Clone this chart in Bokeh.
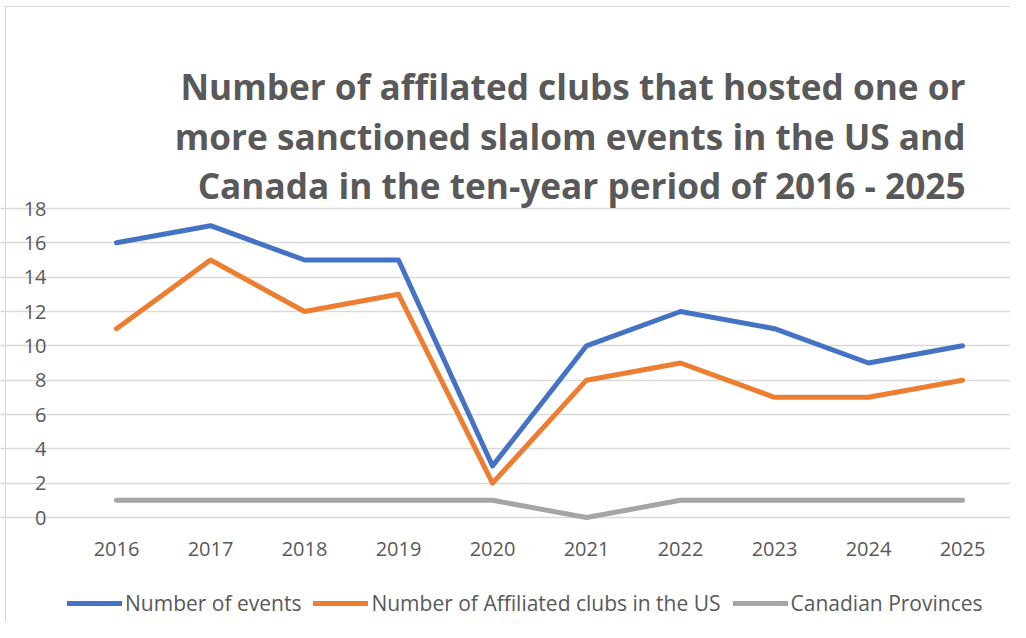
from bokeh.plotting import figure
from bokeh.models import Range1d, FixedTicker, Legend, LegendItem, Label
from bokeh.embed import file_html
from bokeh.resources import INLINE

years = [2016, 2017, 2018, 2019, 2020, 2021, 2022, 2023, 2024, 2025]
events = [16, 17, 15, 15, 3, 10, 12, 11, 9, 10]
clubs_us = [11, 15, 12, 13, 2, 8, 9, 7, 7, 8]
canada = [1, 1, 1, 1, 1, 0, 1, 1, 1, 1]
y_ticks = [0, 2, 4, 6, 8, 10, 12, 14, 16, 18]
series_names = ["Number of events", "Number of Affiliated clubs in the US", "Canadian Provinces"]
title_lines = [
    "Number of affilated clubs that hosted one or",
    "more sanctioned slalom events in the US and",
    "Canada in the ten-year period of 2016 - 2025",
]

TEXT = "#595959"
GRID = "#D9D9D9"
FONT = "Open Sans"
colors = ["#4472C4", "#ED7D31", "#A5A5A5"]

# ---- layout (pixels) ----
W, H = 1010, 622
PLOT_L, PLOT_R, PLOT_T, PLOT_B = 69, 1009, 208, 517
x_lo, x_hi = years[0] - 0.5, years[-1] + 0.5
y_lo, y_hi = y_ticks[0], y_ticks[-1]
xs = (PLOT_R - PLOT_L) / (x_hi - x_lo)
ys = (PLOT_B - PLOT_T) / (y_hi - y_lo)


def px_x(px):
    return x_lo + (px - PLOT_L) / xs


def px_y(py):
    return y_lo + (PLOT_B - py) / ys


p = figure(width=W, height=H, output_backend="svg", toolbar_location=None, title=None,
           x_range=Range1d(px_x(0), px_x(W)), y_range=Range1d(px_y(H), px_y(0)),
           min_border=0)
p.border_fill_alpha = 0
p.background_fill_alpha = 0
p.styles = {
    "background-color": "white",
    "background-image": "linear-gradient(#d9d9d9, #d9d9d9), linear-gradient(#d9d9d9, #d9d9d9)",
    "background-size": "1px 100%, 100% 1px",
    "background-position": "5px 6px, 5px 6px",
    "background-repeat": "no-repeat",
}
p.outline_line_color = None

p.xgrid.grid_line_color = None
p.ygrid.grid_line_color = GRID
p.ygrid.grid_line_width = 1.3
p.ygrid.bounds = (x_lo, x_hi)
p.yaxis.ticker = FixedTicker(ticks=y_ticks)
p.xaxis.ticker = FixedTicker(ticks=years)
p.xaxis.major_label_overrides = {y: str(y) for y in years}
p.yaxis.fixed_location = x_lo
p.xaxis.fixed_location = y_lo

for ax in (p.xaxis, p.yaxis):
    ax.axis_line_color = None
    ax.major_tick_line_color = None
    ax.minor_tick_line_color = None
    ax.major_label_text_color = TEXT
    ax.major_label_text_font = FONT
    ax.major_label_text_font_size = "20px"
p.yaxis.major_label_standoff = 17
p.xaxis.major_label_standoff = 18

renderers = []
for vals, c in zip([events, clubs_us, canada], colors):
    r = p.line(years, vals, line_color=c, line_width=5, line_cap="round", line_join="round")
    renderers.append(r)

legend = Legend(items=[LegendItem(label=n, renderers=[r]) for n, r in zip(series_names, renderers)],
                orientation="horizontal", location=(67, 5),
                label_text_font=FONT, label_text_font_size="21px", label_text_color=TEXT,
                glyph_width=55, glyph_height=20, label_standoff=3, spacing=12,
                padding=2, margin=0, border_line_color=None, background_fill_alpha=0)
p.add_layout(legend, "center")

title_right = 965
title_baselines = [85, 135, 184]
for t, by in zip(title_lines, title_baselines):
    p.add_layout(Label(x=px_x(title_right), y=px_y(by), text=t,
                       text_align="right", text_baseline="alphabetic",
                       text_font=FONT, text_font_style="bold", text_font_size="35.2px",
                       text_color=TEXT))

open("out.html", "w").write(file_html(p, INLINE))
